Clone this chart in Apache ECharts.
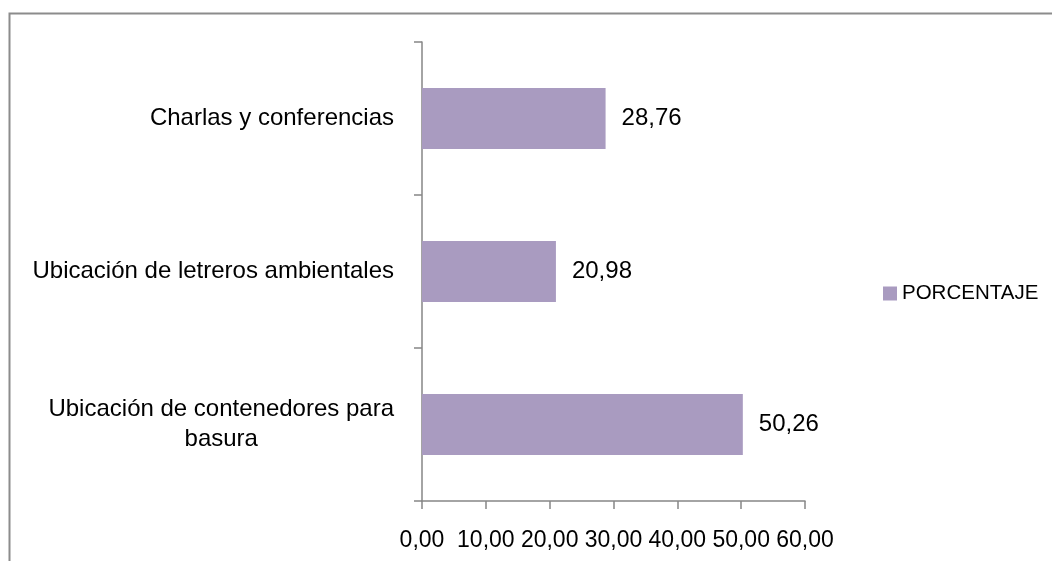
<!DOCTYPE html>
<html>
<head>
<meta charset="utf-8">
<script src="https://cdn.jsdelivr.net/npm/echarts@6/dist/echarts.min.js"></script>
<style>html,body{margin:0;padding:0;background:#fff;}#c{width:1052px;height:561px;}</style>
</head>
<body>
<div id="c"></div>
<script>
var categories = ['Ubicación de contenedores para\nbasura', 'Ubicación de letreros ambientales', 'Charlas y conferencias'];
var values = [50.26, 20.98, 28.76];
var seriesName = 'PORCENTAJE';
var xTicks = [0, 10, 20, 30, 40, 50, 60];

var FONT = '"Liberation Sans", Arial, sans-serif';
var chart = echarts.init(document.getElementById('c'), null, {renderer: 'canvas'});
chart.setOption({
  animation: false,
  backgroundColor: '#fff',
  graphic: [{
    type: 'rect', shape: {x: 9.5, y: 13.5, width: 1200, height: 800},
    style: {fill: 'none', stroke: '#8c8c8c', lineWidth: 2}, silent: true
  }],
  legend: {
    data: [seriesName], left: 878, top: 278, itemWidth: 14, itemHeight: 14, itemGap: 6,
    icon: 'rect',
    textStyle: {fontFamily: FONT, fontSize: 20.5, color: '#000'}
  },
  grid: {left: 422, top: 42, right: 247, bottom: 60, containLabel: false},
  xAxis: {
    type: 'value', min: xTicks[0], max: xTicks[xTicks.length - 1], interval: 10,
    axisLine: {show: true, lineStyle: {color: '#868686', width: 1.5}},
    axisTick: {show: true, length: 8, lineStyle: {color: '#868686', width: 1.5}},
    splitLine: {show: false},
    axisLabel: {
      fontFamily: FONT, fontSize: 23, color: '#000', margin: 28,
      formatter: function (v) { return v.toFixed(2).replace('.', ','); }
    }
  },
  yAxis: {
    type: 'category', data: categories,
    axisLine: {show: true, lineStyle: {color: '#868686', width: 1.5}},
    axisTick: {show: true, length: 8, alignWithLabel: false, lineStyle: {color: '#868686', width: 1.5}},
    axisLabel: {
      fontFamily: FONT, fontSize: 24, color: '#000', margin: 28, lineHeight: 30,
      formatter: function (v) {
        return v.split('\n').map(function (s) { return '{c|' + s + '}'; }).join('\n');
      },
      rich: {c: {align: 'center', fontFamily: FONT, fontSize: 24, color: '#000', lineHeight: 30}}
    }
  },
  series: [{
    name: seriesName, type: 'bar', data: values, barWidth: 61,
    itemStyle: {color: '#A99BC0'},
    label: {
      show: true, position: 'right', distance: 16,
      fontFamily: FONT, fontSize: 24, color: '#000',
      formatter: function (p) { return p.value.toFixed(2).replace('.', ','); }
    }
  }]
});
</script>
</body>
</html>
